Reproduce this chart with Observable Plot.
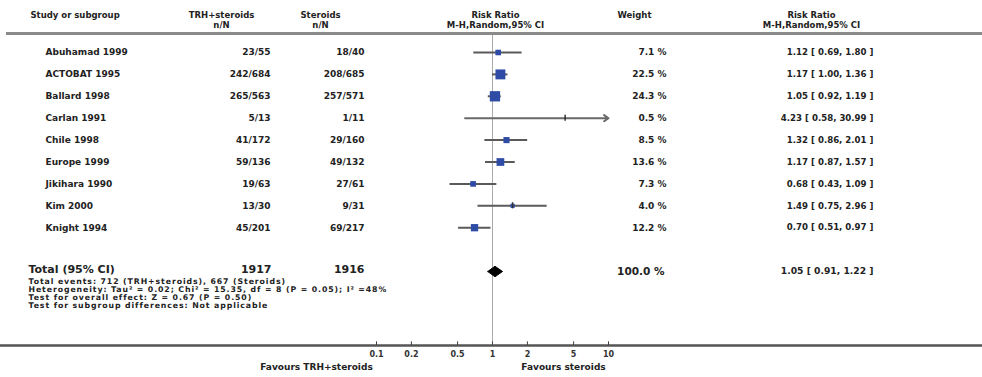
<!DOCTYPE html>
<html><head><meta charset="utf-8">
<script src="https://cdn.jsdelivr.net/npm/d3@7"></script>
<script src="https://cdn.jsdelivr.net/npm/@observablehq/plot@0.6"></script>
<style>html,body{margin:0;padding:0;background:#fff}svg{display:block}.foot text{letter-spacing:0.9px}</style>
</head><body><div id="chart"></div>
<script>
// ---- data ----
const studies = ["Abuhamad 1999","ACTOBAT 1995","Ballard 1998","Carlan 1991","Chile 1998","Europe 1999","Jikihara 1990","Kim 2000","Knight 1994"];
const trhEvents = [23,242,265,5,41,59,19,13,45];
const trhTotal  = [55,684,563,13,172,136,63,30,201];
const sterEvents = [18,208,257,1,29,49,27,9,69];
const sterTotal  = [40,685,571,11,160,132,61,31,217];
const weights = [7.1,22.5,24.3,0.5,8.5,13.6,7.3,4.0,12.2];
const rr = [1.12,1.17,1.05,4.23,1.32,1.17,0.68,1.49,0.70];
const lo = [0.69,1.00,0.92,0.58,0.86,0.87,0.43,0.75,0.51];
const hi = [1.80,1.36,1.19,30.99,2.01,1.57,1.09,2.96,0.97];
const totalLabel = "Total (95% CI)";
const totalTrh = 1917, totalSter = 1916, totalWeight = 100.0;
const totalRR = 1.05, totalLo = 0.91, totalHi = 1.22;
const footnotes = [
  "Total events: 712 (TRH+steroids), 667 (Steroids)",
  "Heterogeneity: Tau\u00b2 = 0.02; Chi\u00b2 = 15.35, df = 8 (P = 0.05); I\u00b2 =48%",
  "Test for overall effect: Z = 0.67 (P = 0.50)",
  "Test for subgroup differences: Not applicable"
];
const tickValues = [0.1,0.2,0.5,1,2,5,10];
const leftFavour = "Favours TRH+steroids";
const rightFavour = "Favours steroids";
const headers = ["Study or subgroup","TRH+steroids\nn/N","Steroids\nn/N","Risk Ratio\nM-H,Random,95% CI","Weight","Risk Ratio\nM-H,Random,95% CI"];

// ---- build ----
const f2 = d3.format(".2f");
const rows = studies.map((s,i)=>({
  i, study:s,
  trh:`${trhEvents[i]}/${trhTotal[i]}`,
  ster:`${sterEvents[i]}/${sterTotal[i]}`,
  w:weights[i], wt:`${weights[i].toFixed(1)} %`,
  rr:rr[i], lo:lo[i], hi:hi[i],
  ci:`${f2(rr[i])} [ ${f2(lo[i])}, ${f2(hi[i])} ]`
}));
const xMax = 10;
const TOT = rows.length + 1; // total row index
const totalRow = {i:TOT, label:totalLabel, trh:String(totalTrh), ster:String(totalSter),
  wt:`${totalWeight.toFixed(1)} %`, ci:`${f2(totalRR)} [ ${f2(totalLo)}, ${f2(totalHi)} ]`};
const dh = 0.24;
const diamond = [
  {x:totalLo,y:TOT},{x:totalRR,y:TOT-dh},{x:totalHi,y:TOT},{x:totalRR,y:TOT+dh},{x:totalLo,y:TOT}
];
const ruleTop = -0.87, axisY = 13.38;
const hdrPos = [{dx:30,a:"start",y:-1.7},{dx:221,a:"middle"},{dx:320,a:"middle"},{dx:495,a:"middle"},{dx:634,a:"middle",y:-1.7},{dx:811,a:"middle"}];

const font = "'DejaVu Sans', Verdana, sans-serif";
const txt = {fill:"#222", fontWeight:"bold", fontSize:9, frameAnchor:"left"};

const headerMarks = headers.map((t,k)=>Plot.text([t], {
  y:()=> hdrPos[k].y ?? -1.5, text:d=>d, dx:hdrPos[k].dx, textAnchor:hdrPos[k].a,
  lineHeight:1.15, ...txt, fontSize:8.5
}));

const chart = Plot.plot({
  width:982, height:377,
  marginLeft:0, marginRight:0, marginTop:0, marginBottom:32,
  style:{fontFamily:font, background:"#fff"},
  x:{type:"log", domain:[0.1,10], range:[376,608]},
  y:{type:"linear", domain:[0,10], range:[52,271]},
  r:{type:"sqrt", domain:[0,25], range:[0,5.9]},
  marks:[
    Plot.ruleX([1], {y1:ruleTop, y2:axisY, stroke:"#aaa", strokeWidth:1}),
    Plot.ruleY([ruleTop], {stroke:"#8a8a8a", strokeWidth:3, insetLeft:6}),
    Plot.ruleY([axisY], {stroke:"#555", strokeWidth:2.5}),
    Plot.ruleX(tickValues, {x:d=>d, y1:axisY-0.17, y2:axisY, stroke:"#444", strokeWidth:1}),
    Plot.axisX({ticks:tickValues, tickFormat:d=>String(d), tickSize:0, tickPadding:6, label:null, fontSize:8, fill:"#333", fontWeight:"bold"}),
    // CIs
    Plot.ruleY(rows.filter(d=>d.hi<=xMax), {y:"i", x1:"lo", x2:"hi", stroke:"#5a5a5a", strokeWidth:2}),
    Plot.arrow(rows.filter(d=>d.hi>xMax), {y1:"i", y2:"i", x1:"lo", x2:()=>xMax, stroke:"#6a6a6a", strokeWidth:2, headLength:4, headAngle:70}),
    Plot.dot(rows, {x:"rr", y:"i", r:"w", symbol:"square", fill:"#2e4ca6", stroke:"none"}),
    Plot.ruleX(rows.filter(d=>d.w<5), {x:"rr", y1:d=>d.i-0.14, y2:d=>d.i+0.14, stroke:"#333", strokeWidth:1.5}),
    Plot.line(diamond, {x:"x", y:"y", fill:"#000", stroke:"#000", strokeWidth:1}),
    // header
    ...headerMarks,
    // study rows
    Plot.text(rows, {y:"i", text:"study", dx:45, textAnchor:"start", ...txt}),
    Plot.text(rows, {y:"i", text:"trh", dx:270, textAnchor:"end", ...txt}),
    Plot.text(rows, {y:"i", text:"ster", dx:364, textAnchor:"end", ...txt}),
    Plot.text(rows, {y:"i", text:"wt", dx:666, textAnchor:"end", ...txt}),
    Plot.text(rows, {y:"i", text:"ci", dx:873, textAnchor:"end", ...txt, fontSize:8.6}),
    // total row
    Plot.text([totalRow], {y:"i", dy:-2, text:"label", dx:28, textAnchor:"start", ...txt, fontSize:11}),
    Plot.text([totalRow], {y:"i", dy:-2, text:"trh", dx:271, textAnchor:"end", ...txt, fontSize:11}),
    Plot.text([totalRow], {y:"i", dy:-2, text:"ster", dx:364, textAnchor:"end", ...txt, fontSize:11}),
    Plot.text([totalRow], {y:"i", text:"wt", dx:664, textAnchor:"end", ...txt, fontSize:10.5}),
    Plot.text([totalRow], {y:"i", text:"ci", dx:873, textAnchor:"end", ...txt, fontSize:9.2}),
    Plot.text([footnotes.join("\n")], {y:()=>TOT, dy:6.5, text:d=>d, dx:28, textAnchor:"start", lineAnchor:"top", lineHeight:1.03, ...txt, fontSize:7.8, className:"foot"}),
    // favours labels
    Plot.text([leftFavour], {y:()=>axisY, dy:22, text:d=>d, dx:316, textAnchor:"middle", ...txt, fontSize:9}),
    Plot.text([rightFavour], {y:()=>axisY, dy:22, text:d=>d, dx:563, textAnchor:"middle", ...txt, fontSize:9})
  ]
});
document.getElementById("chart").append(chart);
</script>
</body></html>
